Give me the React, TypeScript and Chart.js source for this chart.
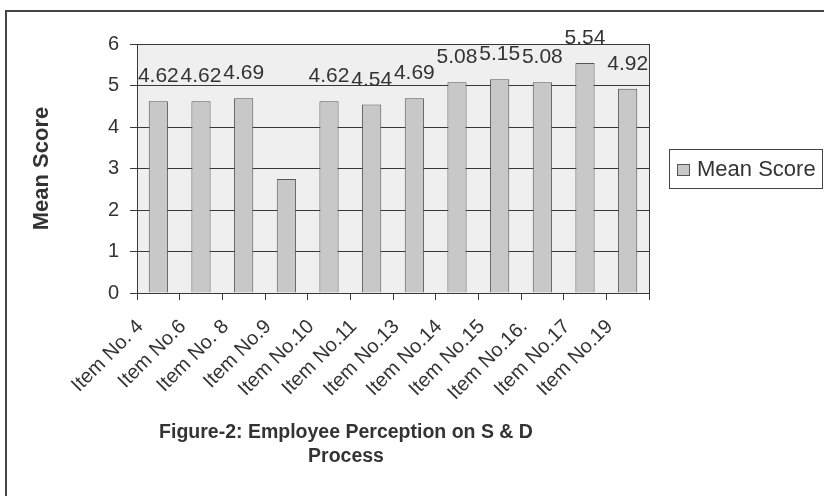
import React, { useEffect, useRef } from "react";
import { Chart, registerables } from "chart.js";

Chart.register(...registerables);

const categories = [
  "Item No. 4",
  "Item No.6",
  "Item No. 8",
  "Item No.9",
  "Item No.10",
  "Item No.11",
  "Item No.13",
  "Item No.14",
  "Item No.15",
  "Item No.16.",
  "Item No.17",
  "Item No.19",
];
const meanScores = [4.62, 4.62, 4.69, 2.75, 4.62, 4.54, 4.69, 5.08, 5.15, 5.08, 5.54, 4.92];
const valueLabels = ["4.62", "4.62", "4.69", "", "4.62", "4.54", "4.69", "5.08", "5.15", "5.08", "5.54", "4.92"];
const yTicks = [0, 1, 2, 3, 4, 5, 6];
const seriesName = "Mean Score";
const titleLines = ["Figure-2: Employee Perception on S & D", "Process"];

const FONT = "'Liberation Sans', Arial, Helvetica, sans-serif";
const TEXT = "#333333";
const LINE = "#383838";

export default function App() {
  const ref = useRef<HTMLCanvasElement | null>(null);

  useEffect(() => {
    document.body.style.margin = "0";
    const canvas = ref.current;
    if (!canvas) return;

    const decor = {
      id: "decor",
      beforeDraw(chart: any) {
        const { ctx, chartArea } = chart;
        ctx.save();
        ctx.fillStyle = "#efefef";
        ctx.fillRect(chartArea.left, chartArea.top, chartArea.right - chartArea.left, chartArea.bottom - chartArea.top);
        ctx.restore();
      },
      afterDatasetsDraw(chart: any) {
        const { ctx, chartArea } = chart;
        ctx.save();
        // right border of plot area
        ctx.strokeStyle = LINE;
        ctx.lineWidth = 1;
        ctx.beginPath();
        ctx.moveTo(Math.round(chartArea.right) + 0.5, chartArea.top);
        ctx.lineTo(Math.round(chartArea.right) + 0.5, chartArea.bottom);
        ctx.stroke();
        // value labels
        const meta = chart.getDatasetMeta(0);
        ctx.fillStyle = TEXT;
        ctx.font = `21px ${FONT}`;
        ctx.textAlign = "center";
        ctx.textBaseline = "alphabetic";
        meta.data.forEach((bar: any, i: number) => {
          const t = valueLabels[i];
          if (t) ctx.fillText(t, bar.x, bar.y - 19);
        });
        ctx.restore();
      },
      afterDraw(chart: any) {
        const { ctx, chartArea } = chart;
        ctx.save();
        // legend
        const ds = chart.data.datasets[0];
        const lx = Math.round(chartArea.right) + 20;
        const lw = 153;
        const lh = 39;
        const cy = (chartArea.top + chartArea.bottom) / 2;
        const ly = Math.round(cy - lh / 2);
        ctx.strokeStyle = "#444";
        ctx.lineWidth = 1;
        ctx.strokeRect(lx + 0.5, ly + 0.5, lw, lh);
        ctx.fillStyle = ds.backgroundColor;
        ctx.fillRect(lx + 8.5, ly + 15.5, 12, 11);
        ctx.strokeStyle = ds.borderColor;
        ctx.strokeRect(lx + 8.5, ly + 15.5, 12, 11);
        ctx.fillStyle = TEXT;
        ctx.font = `22px ${FONT}`;
        ctx.textAlign = "left";
        ctx.textBaseline = "middle";
        ctx.fillText(ds.label, lx + 28, ly + lh / 2 + 1);
        // figure title
        ctx.font = `bold 19.5px ${FONT}`;
        ctx.textAlign = "center";
        ctx.textBaseline = "alphabetic";
        titleLines.forEach((line, i) => ctx.fillText(line, 346, 438 + i * 23.5));
        // outer frame
        ctx.strokeStyle = "#454545";
        ctx.lineWidth = 2;
        ctx.beginPath();
        ctx.moveTo(6, 496);
        ctx.lineTo(6, 11);
        ctx.lineTo(824, 11);
        ctx.stroke();
        ctx.restore();
      },
    };

    const chart = new Chart(canvas, {
      type: "bar",
      data: {
        labels: categories,
        datasets: [
          {
            label: seriesName,
            data: meanScores,
            backgroundColor: "#c8c8c8",
            borderColor: "#555555",
            borderWidth: 1,
            categoryPercentage: 1,
            barPercentage: 0.45,
          },
        ],
      },
      options: {
        responsive: false,
        animation: false,
        layout: { padding: { top: 44, right: 175, bottom: 0, left: 0 } },
        plugins: {
          legend: { display: false },
          tooltip: { enabled: false },
          title: { display: false },
        },
        scales: {
          x: {
            grid: { drawOnChartArea: false, drawTicks: true, tickLength: 7, color: LINE, offset: true },
            border: { color: LINE },
            ticks: {
              color: TEXT,
              font: { family: FONT, size: 20 },
              minRotation: 45,
              maxRotation: 45,
              autoSkip: false,
              labelOffset: -18,
              padding: 15,
            },
            afterFit(scale: any) {
              scale.height = 203;
            },
          },
          y: {
            min: 0,
            max: 6,
            afterBuildTicks(scale: any) {
              scale.ticks = yTicks.map((v) => ({ value: v }));
            },
            grid: { color: LINE, tickLength: 7 },
            border: { color: LINE },
            ticks: { color: TEXT, font: { family: FONT, size: 20 }, padding: 11 },
            title: {
              display: true,
              text: seriesName,
              color: TEXT,
              font: { family: FONT, size: 22, weight: "bold" },
              padding: { top: 29, bottom: 0 },
            },
            afterFit(scale: any) {
              scale.width = 137;
            },
          },
        },
      },
      plugins: [decor],
    });

    return () => chart.destroy();
  }, []);

  return (
    <div style={{ width: 824, height: 496 }}>
      <canvas ref={ref} width={824} height={496} />
    </div>
  );
}
